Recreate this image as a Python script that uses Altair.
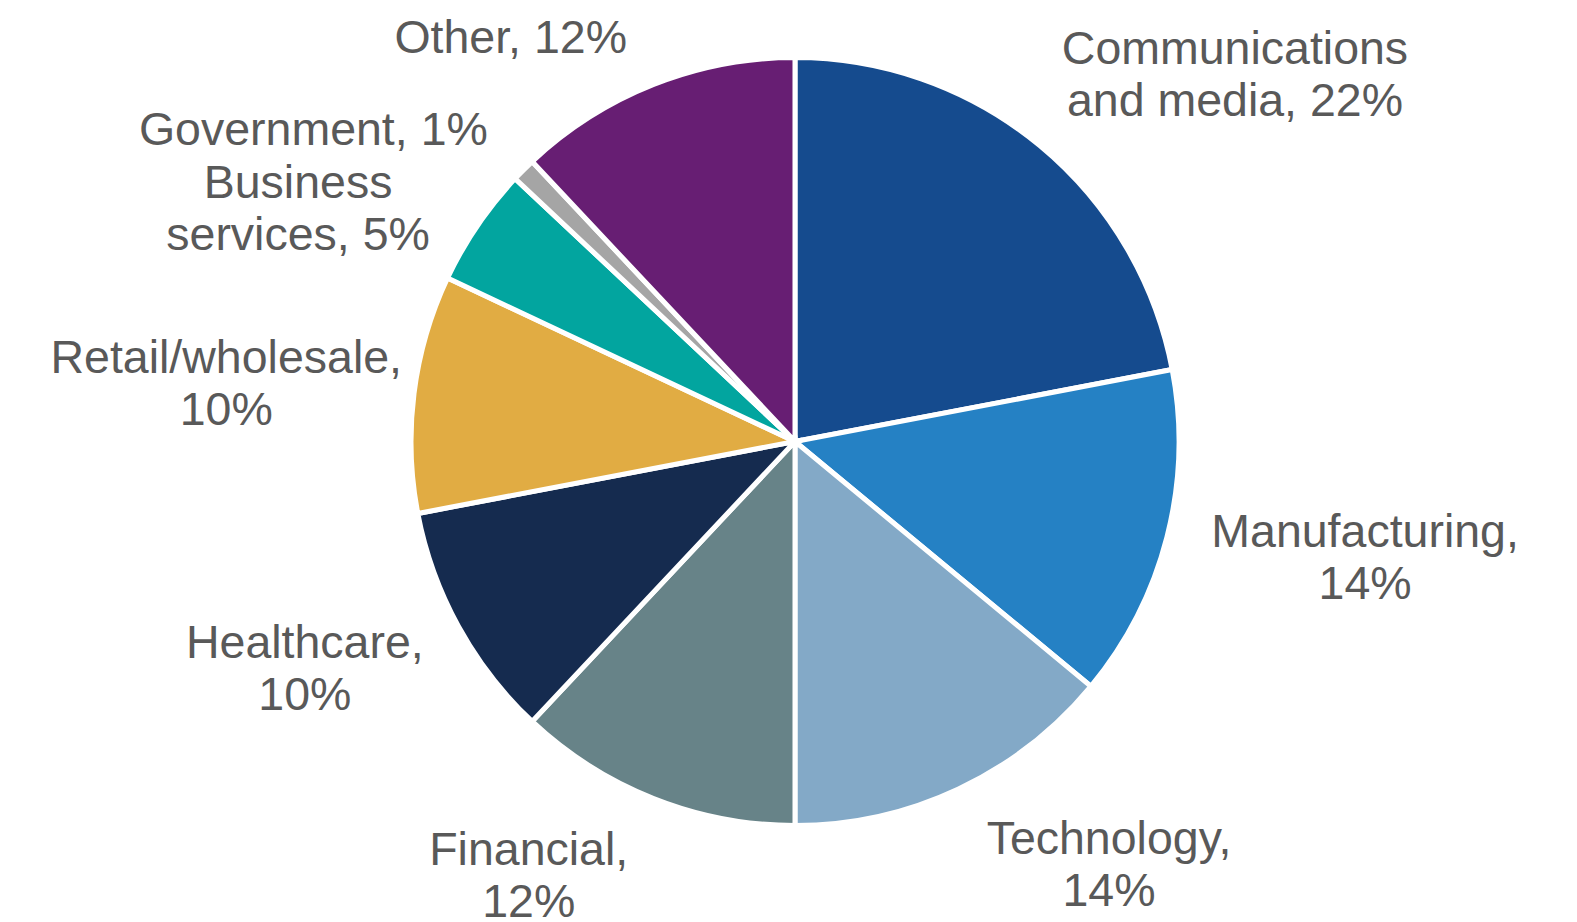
import math
import altair as alt
import pandas as pd

categories = ["Communications and media", "Manufacturing", "Technology", "Financial",
              "Healthcare", "Retail/wholesale", "Business services", "Government", "Other"]
values = [22, 14, 14, 12, 10, 10, 5, 1, 12]
labels = ["Communications\nand media, 22%", "Manufacturing,\n14%", "Technology,\n14%",
          "Financial,\n12%", "Healthcare,\n10%", "Retail/wholesale,\n10%",
          "Business\nservices, 5%", "Government, 1%", "Other,  12%"]
colors = ["#154B8E", "#2581C4", "#83A9C7", "#678388", "#152B4F",
          "#E1AC43", "#02A59F", "#A5A5A5", "#671E73"]

# label placement (layout only): offsets from the mid-angle anchor point
label_offsets = {
    "Communications and media": (178, -61),
    "Manufacturing": (172, 3),
    "Technology": (139, 41),
    "Financial": (-115, 41),
    "Healthcare": (-130, 18),
    "Retail/wholesale": (-161, -17),
    "Business services": (-157, -12),
    "Government": (-191, -6),
    "Other": (-133, -6),
}

df = pd.DataFrame({"category": categories, "value": values, "label": labels,
                   "idx": list(range(len(categories)))})

CX, CY, R = 787, 433.5, 384
theta_scale = alt.Scale(domain=[0, 100], range=[0, 2 * math.pi])

base = alt.Chart(df)

pie = base.mark_arc(outerRadius=R, stroke="white", strokeWidth=5).encode(
    theta=alt.Theta("value:Q", stack=True, scale=theta_scale),
    color=alt.Color("category:N", scale=alt.Scale(domain=categories, range=colors), legend=None),
    order=alt.Order("idx:Q"),
    x=alt.value(CX),
    y=alt.value(CY),
)

layers = [pie]
for cat in categories:
    dx, dy = label_offsets[cat]
    t = base.transform_window(
        cum="sum(value)", sort=[alt.SortField("idx")], frame=[None, 0]
    ).transform_calculate(
        mid="datum.cum - datum.value / 2"
    ).transform_filter(
        alt.datum.category == cat
    ).mark_text(
        radius=411, dx=dx, dy=dy, align="center", baseline="alphabetic",
        lineBreak="\n", lineHeight=52, font="Liberation Sans", fontSize=46.5,
        color="#595959",
    ).encode(
        theta=alt.Theta("mid:Q", stack=False, scale=theta_scale),
        text="label:N",
        x=alt.value(CX),
        y=alt.value(CY),
    )
    layers.append(t)

chart = alt.layer(*layers).properties(
    width=1555, height=914, padding=0, autosize=alt.AutoSizeParams(type="none")
).configure_view(stroke=None)

chart.save("out.html", embed_options={"renderer": "svg", "actions": False})
